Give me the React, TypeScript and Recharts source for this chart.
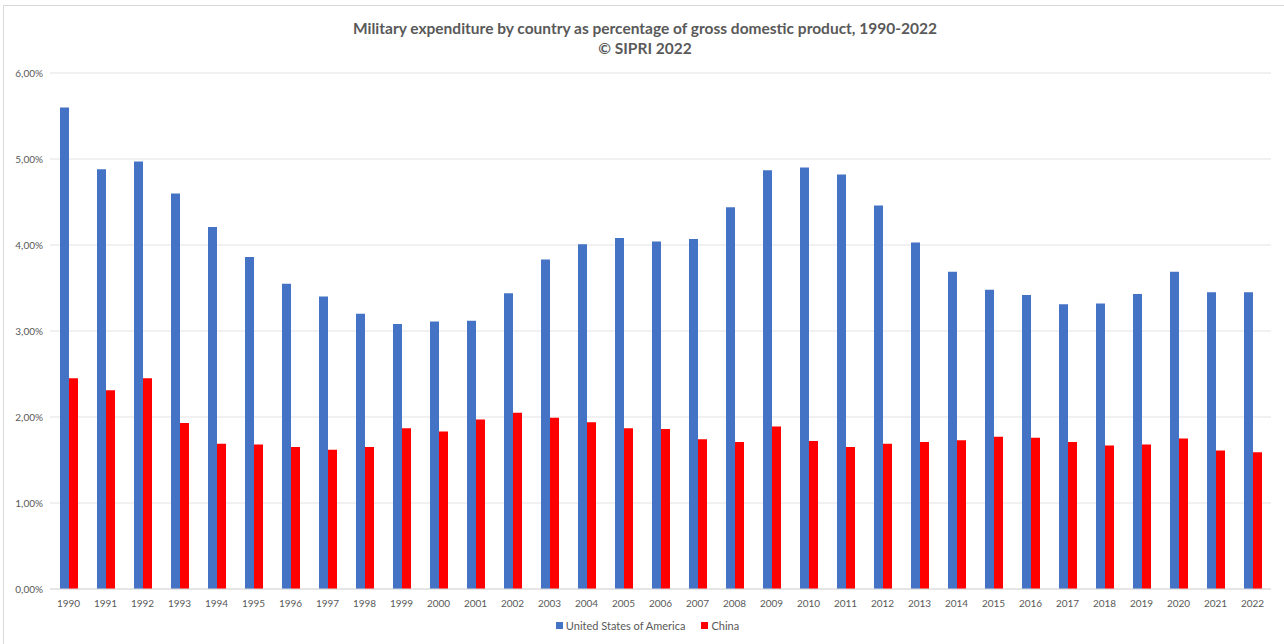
import { BarChart, Bar, XAxis, YAxis, CartesianGrid, Legend } from 'recharts';

const years = [
  '1990', '1991', '1992', '1993', '1994', '1995', '1996', '1997', '1998', '1999',
  '2000', '2001', '2002', '2003', '2004', '2005', '2006', '2007', '2008', '2009',
  '2010', '2011', '2012', '2013', '2014', '2015', '2016', '2017', '2018', '2019',
  '2020', '2021', '2022',
];

// % of GDP
const usa = [
  5.6, 4.88, 4.97, 4.6, 4.21, 3.86, 3.55, 3.4, 3.2, 3.08,
  3.11, 3.12, 3.44, 3.83, 4.01, 4.08, 4.04, 4.07, 4.44, 4.87,
  4.9, 4.82, 4.46, 4.03, 3.69, 3.48, 3.42, 3.31, 3.32, 3.43,
  3.69, 3.45, 3.45,
];

const china = [
  2.45, 2.31, 2.45, 1.93, 1.69, 1.68, 1.65, 1.62, 1.65, 1.87,
  1.83, 1.97, 2.05, 1.99, 1.94, 1.87, 1.86, 1.74, 1.71, 1.89,
  1.72, 1.65, 1.69, 1.71, 1.73, 1.77, 1.76, 1.71, 1.67, 1.68,
  1.75, 1.61, 1.59,
];

const yTicks = [0, 1, 2, 3, 4, 5, 6];

const seriesNames = ['United States of America', 'China'];
const colors = ['#4472C4', '#FF0000'];

const FONT = 'Lato, "Open Sans", sans-serif';

const chartData = years.map((year, i) => ({ year, usa: usa[i], china: china[i] }));

const formatPct = (v: number) => `${v.toFixed(2).replace('.', ',')}%`;

function LegendContent() {
  return (
    <div
      style={{
        display: 'flex',
        justifyContent: 'center',
        gap: 16,
        fontFamily: FONT,
        fontSize: 11,
        color: '#595959',
        paddingLeft: 24,
      }}
    >
      {seriesNames.map((name, i) => (
        <div key={name} style={{ display: 'flex', alignItems: 'center', gap: 3 }}>
          <span style={{ width: 7, height: 7, background: colors[i], display: 'inline-block' }} />
          <span>{name}</span>
        </div>
      ))}
    </div>
  );
}

export default function App() {
  return (
    <div
      style={{
        position: 'absolute',
        left: 0,
        top: 0,
        width: 1284,
        height: 644,
        background: '#fff',
        fontFamily: FONT,
      }}
    >
      <div
        style={{
          position: 'absolute',
          left: 3,
          top: 5,
          width: 1290,
          height: 650,
          border: '1px solid #d9d9d9',
          boxSizing: 'border-box',
        }}
      />
      <div
        style={{
          position: 'absolute',
          top: 18,
          left: 0,
          width: 1290,
          textAlign: 'center',
          fontWeight: 700,
          fontSize: 15.5,
          lineHeight: '20px',
          color: '#595959',
        }}
      >
        Military expenditure by country as percentage of gross domestic product, 1990-2022
        <br />© SIPRI 2022
      </div>
      <BarChart
        width={1284}
        height={644}
        data={chartData}
        margin={{ top: 73, right: 13, left: 0, bottom: 5 }}
        barGap={0}
        barSize={9}
      >
        <CartesianGrid vertical={false} stroke="#e3e3e3" />
        <XAxis
          dataKey="year"
          axisLine={{ stroke: '#d9d9d9' }}
          tickLine={false}
          tickMargin={5}
          height={30}
          interval={0}
          tick={{ fontSize: 10, fill: '#595959', fontFamily: FONT }}
        />
        <YAxis
          width={50}
          domain={[0, 6]}
          ticks={yTicks}
          tickFormatter={formatPct}
          axisLine={false}
          tickLine={false}
          tickMargin={1}
          tick={{ fontSize: 10, fill: '#595959', fontFamily: FONT }}
        />
        <Legend
          verticalAlign="bottom"
          height={20}
          content={() => <LegendContent />}
        />
        <Bar dataKey="usa" name={seriesNames[0]} fill={colors[0]} isAnimationActive={false} />
        <Bar dataKey="china" name={seriesNames[1]} fill={colors[1]} isAnimationActive={false} />
      </BarChart>
    </div>
  );
}
